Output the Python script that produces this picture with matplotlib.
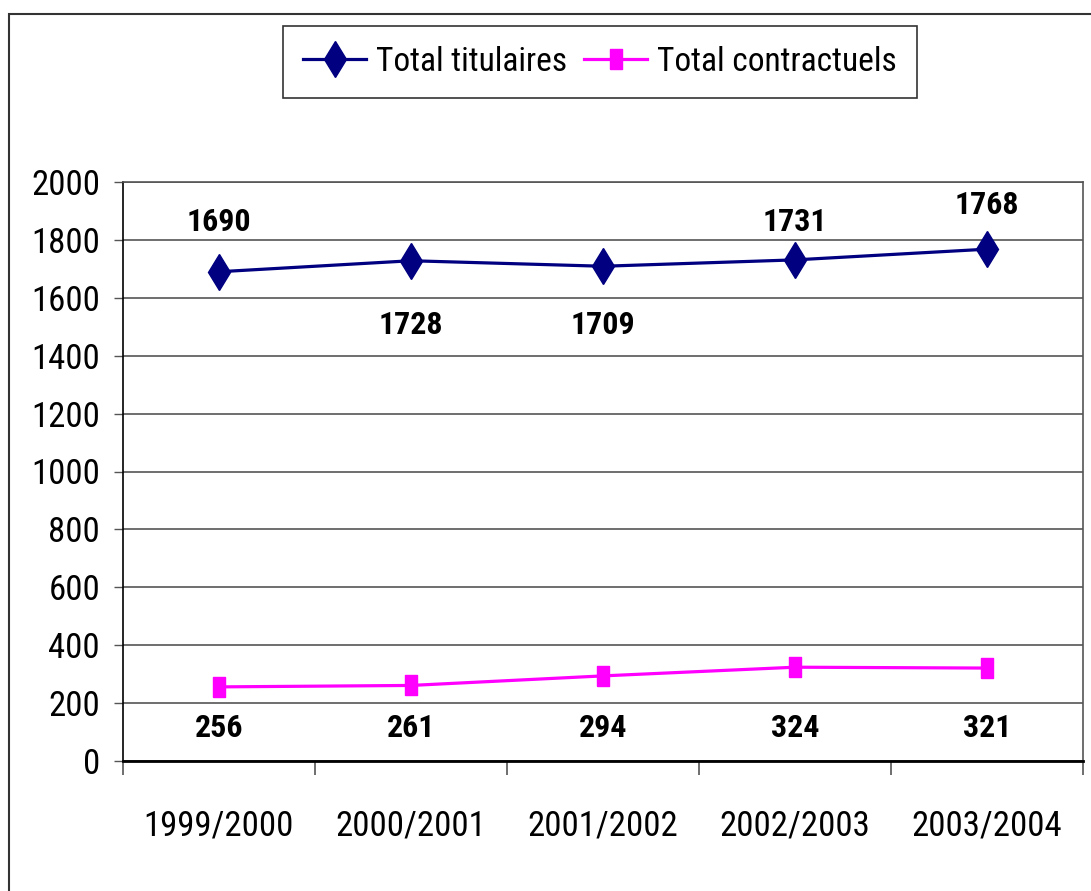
import numpy as np
import matplotlib.pyplot as plt
from matplotlib.patches import Rectangle
from matplotlib.ticker import FixedLocator

plt.rcParams['font.family'] = ['Roboto Condensed', 'DejaVu Sans']

# Data
years = ['1999/2000', '2000/2001', '2001/2002', '2002/2003', '2003/2004']
titulaires = [1690, 1728, 1709, 1731, 1768]
contractuels = [256, 261, 294, 324, 321]

# label offsets in pixels (negative = above the point)
tit_offsets = [-50, 64, 59, -38, -44]
con_offsets = [41, 43, 52, 61, 60]

fig = plt.figure(figsize=(10.91, 8.91), dpi=100)
ax = fig.add_axes([123 / 1091, 130 / 891, 960 / 1091, 579 / 891])

# outer frame of the chart
fig.patches.append(Rectangle((9 / 1091, -0.02), 1.05, (891 - 14) / 891 + 0.02,
                             transform=fig.transFigure, fill=False,
                             edgecolor='#333333', linewidth=1.5))

x = np.arange(len(years))

rect = [(-0.3, -0.5), (0.3, -0.5), (0.3, 0.5), (-0.3, 0.5), (-0.3, -0.5)]

ax.plot(x, titulaires, color='#000080', linewidth=2.3, marker='d',
        markersize=18, label='Total titulaires', zorder=3)
ax.plot(x, contractuels, color='#FF00FF', linewidth=2.3, marker=rect,
        markersize=15, label='Total contractuels', zorder=3)

px = 0.72
for xi, v, off in zip(x, titulaires, tit_offsets):
    ax.annotate(str(v), (xi, v), xytext=(0, -off * px), textcoords='offset points',
                ha='center', va='center', fontsize=23, fontweight='bold')
for xi, v, off in zip(x, contractuels, con_offsets):
    ax.annotate(str(v), (xi, v), xytext=(0, -off * px), textcoords='offset points',
                ha='center', va='center', fontsize=23, fontweight='bold')

ax.set_xlim(-0.5, len(years) - 0.5)
ax.set_ylim(0, 2000)
ax.set_yticks(np.arange(0, 2001, 200))
ax.set_xticks(x)
ax.set_xticklabels(years)
ax.xaxis.set_minor_locator(FixedLocator(np.arange(-0.5, len(years), 1.0)))
ax.tick_params(axis='x', which='major', length=0, pad=35, labelsize=25)
ax.tick_params(axis='x', which='minor', length=10, width=1.2, color='#555555')
ax.tick_params(axis='y', length=6.5, width=1, color='#555555', pad=10, labelsize=25)

ax.grid(axis='y', color='#555555', linewidth=1.2)
ax.set_axisbelow(True)
for side in ['top', 'right']:
    ax.spines[side].set_color('#555555')
    ax.spines[side].set_linewidth(1.2)
ax.spines['left'].set_color('black')
ax.spines['left'].set_linewidth(1.2)
ax.spines['bottom'].set_color('black')
ax.spines['bottom'].set_linewidth(2)

leg = fig.legend(loc='center', bbox_to_anchor=(600 / 1091, (891 - 62) / 891),
                 ncol=2, fontsize=24, frameon=True, fancybox=False,
                 edgecolor='black', handlelength=1.9, handletextpad=0.3,
                 columnspacing=0.5, borderpad=0.6)
leg.get_frame().set_linewidth(1.2)

fig.savefig('out.png', dpi=100)
